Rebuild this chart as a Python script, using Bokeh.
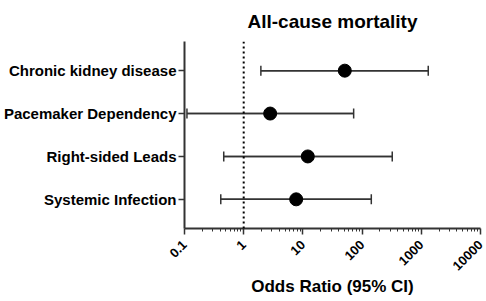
import math
from bokeh.plotting import figure
from bokeh.models import Range1d, FixedTicker, Whisker, ColumnDataSource, Span, TeeHead
from bokeh.embed import file_html
from bokeh.resources import INLINE

categories = ["Chronic kidney disease", "Pacemaker Dependency", "Right-sided Leads", "Systemic Infection"]
odds_ratio = [51, 2.8, 12.1, 7.7]
ci_low = [1.95, 0.11, 0.46, 0.41]
ci_high = [1310, 72, 323, 143]
x_ticks = [0.1, 1, 10, 100, 1000, 10000]
x_tick_labels = ["0.1", "1", "10", "100", "1000", "10000"]

ypos = [len(categories) - 1 - i for i in range(len(categories))]
src = ColumnDataSource(dict(y=ypos, x=odds_ratio, lo=ci_low, hi=ci_high))

FONT = "Liberation Sans"
COL = "#333333"

p = figure(width=486, height=301, x_axis_type="log", output_backend="svg",
           toolbar_location=None, x_range=Range1d(0.1, 10000),
           y_range=Range1d(-0.68, 3.68))
p.min_border_left = 183
p.min_border_right = 6
p.min_border_top = 41
p.min_border_bottom = 73
p.outline_line_color = None
p.xgrid.visible = False
p.ygrid.visible = False
p.background_fill_color = "white"
p.border_fill_color = "white"

p.title.text = "All-cause mortality"
p.title.align = "center"
p.title.vertical_align = "top"
p.title.text_font = FONT
p.title.text_font_size = "19px"
p.title.text_font_style = "bold"
p.title.text_color = "black"
p.title.text_line_height = 0.8
p.title.standoff = 16

p.add_layout(Span(location=1, dimension="height", line_color="black",
                  line_dash="2 3", line_width=2))

p.segment(x0="lo", x1="hi", y0="y", y1="y", source=src, line_color=COL, line_width=1.5)
p.add_layout(Whisker(base="y", lower="lo", upper="hi", dimension="width", source=src,
                     line_color=COL, line_width=1.5,
                     lower_head=TeeHead(size=10, line_color=COL, line_width=1.5),
                     upper_head=TeeHead(size=10, line_color=COL, line_width=1.5)))
p.scatter(x="x", y="y", source=src, size=13, color="black")

xa = p.xaxis[0]
xa.ticker = FixedTicker(ticks=x_ticks,
                        minor_ticks=[m * 10 ** e for e in range(-1, 4) for m in range(2, 10)])
xa.major_label_overrides = {t: l for t, l in zip(x_ticks, x_tick_labels)}
xa.major_label_orientation = math.pi / 4
xa.major_label_text_font = FONT
xa.major_label_text_font_style = "bold"
xa.major_label_text_font_size = "13px"
xa.major_label_text_color = "black"
xa.major_label_standoff = 8
xa.axis_label = "Odds Ratio (95% CI)"
xa.axis_label_text_font = FONT
xa.axis_label_text_font_style = "bold"
xa.axis_label_text_font_size = "17px"
xa.axis_label_text_color = "black"
xa.axis_label_text_line_height = 1.0
xa.axis_label_standoff = 0
xa.axis_line_width = 2
xa.axis_line_color = COL
xa.major_tick_line_width = 1.5
xa.major_tick_line_color = COL
xa.minor_tick_line_color = COL
xa.major_tick_out = 6
xa.major_tick_in = 0
xa.minor_tick_out = 3
xa.minor_tick_in = 0

ya = p.yaxis[0]
ya.ticker = FixedTicker(ticks=ypos)
ya.major_label_overrides = {y: c for y, c in zip(ypos, categories)}
ya.major_label_text_font = FONT
ya.major_label_text_font_style = "bold"
ya.major_label_text_font_size = "15px"
ya.major_label_text_color = "black"
ya.major_label_standoff = 2
ya.axis_line_width = 2
ya.axis_line_color = COL
ya.major_tick_line_width = 1.5
ya.major_tick_line_color = COL
ya.major_tick_out = 6
ya.major_tick_in = 0
ya.minor_tick_line_color = None

open("out.html", "w").write(file_html(p, INLINE))
